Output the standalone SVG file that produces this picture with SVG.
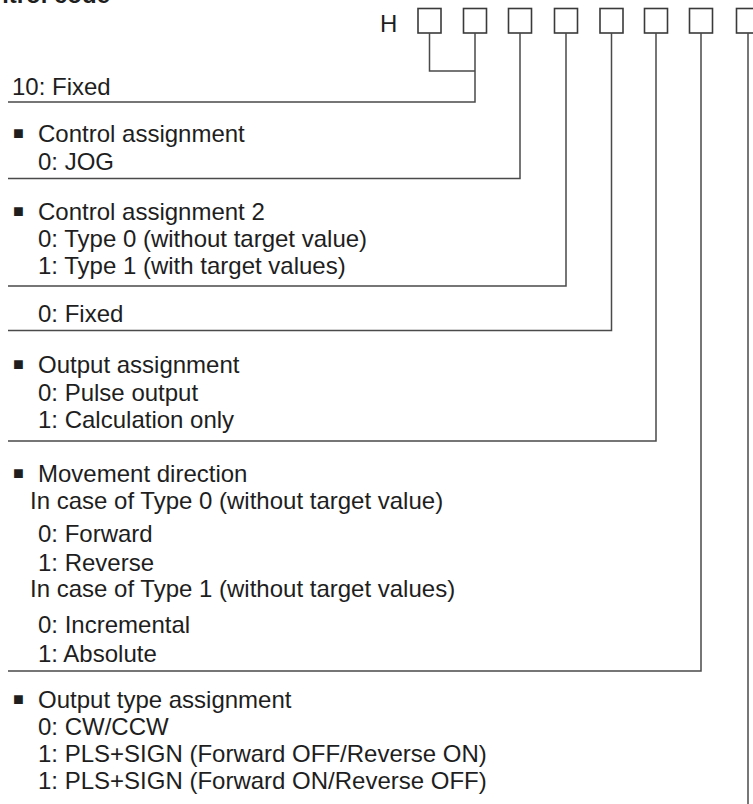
<svg xmlns="http://www.w3.org/2000/svg" width="753" height="804" viewBox="0 0 753 804">
<style>
text{font-family:"Liberation Sans",Arial,sans-serif;font-size:24px;fill:#1e1e1e}
.title{font-weight:bold}
.b{font-size:18px}
.box{fill:none;stroke:#3a3a3a;stroke-width:1.6}
.ln{fill:none;stroke:#4a4a4a;stroke-width:1.5}
</style>
<rect width="753" height="804" fill="#fff"/>
<text class="title" x="-38" y="3">Control code</text>
<g id="code">
<text x="380" y="31.5">H</text>
<rect class="box" x="418" y="8.5" width="23" height="24.5"/>
<rect class="box" x="463.5" y="8.5" width="23" height="24.5"/>
<rect class="box" x="508.5" y="8.5" width="23" height="24.5"/>
<rect class="box" x="554.5" y="8.5" width="23" height="24.5"/>
<rect class="box" x="600" y="8.5" width="23" height="24.5"/>
<rect class="box" x="644.5" y="8.5" width="23" height="24.5"/>
<rect class="box" x="689.5" y="8.5" width="23" height="24.5"/>
<rect class="box" x="736.5" y="8.5" width="23" height="24.5"/>
</g>
<g id="connectors">
<path class="ln" d="M429.5 33V71H475"/>
<path class="ln" d="M475 33V102H8"/>
<path class="ln" d="M520 33V178.5H8"/>
<path class="ln" d="M566 33V286H8"/>
<path class="ln" d="M611.5 33V330.5H8"/>
<path class="ln" d="M656 33V441H8"/>
<path class="ln" d="M701 33V671H8"/>
<path class="ln" d="M748 33V804"/>
</g>
<g id="n1"><text x="12" y="95">10: Fixed</text></g>
<g id="n2">
<text x="13" y="139"><tspan class="b">■</tspan><tspan x="38" y="142">Control assignment</tspan></text>
<text x="38" y="170">0: JOG</text>
</g>
<g id="n3">
<text x="13" y="217"><tspan class="b">■</tspan><tspan x="38" y="220">Control assignment 2</tspan></text>
<text x="38" y="247">0: Type 0 (without target value)</text>
<text x="38" y="274">1: Type 1 (with target values)</text>
</g>
<g id="n4"><text x="38" y="322">0: Fixed</text></g>
<g id="n5">
<text x="13" y="370"><tspan class="b">■</tspan><tspan x="38" y="373">Output assignment</tspan></text>
<text x="38" y="401">0: Pulse output</text>
<text x="38" y="428">1: Calculation only</text>
</g>
<g id="n6">
<text x="13" y="479"><tspan class="b">■</tspan><tspan x="38" y="482">Movement direction</tspan></text>
<text x="30" y="509">In case of Type 0 (without target value)</text>
<text x="38" y="542">0: Forward</text>
<text x="38" y="571">1: Reverse</text>
<text x="30" y="597">In case of Type 1 (without target values)</text>
<text x="38" y="633">0: Incremental</text>
<text x="38" y="662">1: Absolute</text>
</g>
<g id="n7">
<text x="13" y="705"><tspan class="b">■</tspan><tspan x="38" y="708">Output type assignment</tspan></text>
<text x="38" y="735">0: CW/CCW</text>
<text x="38" y="762">1: PLS+SIGN (Forward OFF/Reverse ON)</text>
<text x="38" y="789">1: PLS+SIGN (Forward ON/Reverse OFF)</text>
</g>
</svg>
